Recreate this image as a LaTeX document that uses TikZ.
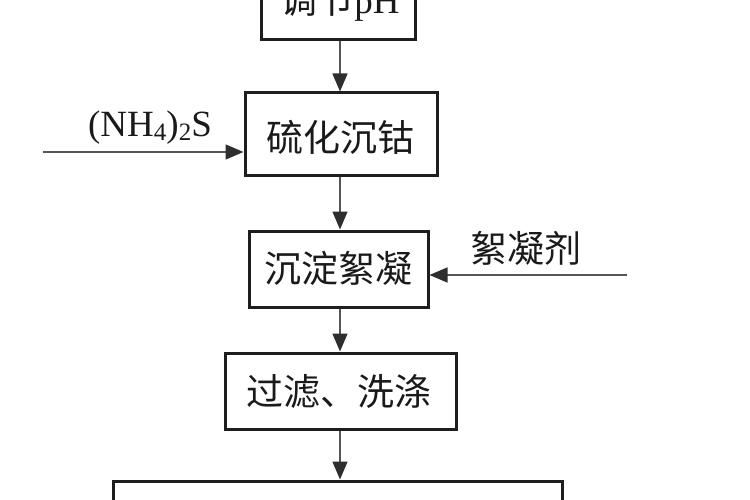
\documentclass[tikz,border=0pt]{standalone}
\usepackage{fontspec}
\setmainfont{Liberation Serif}
\newfontfamily\cjk{Noto Sans CJK SC}
\usetikzlibrary{arrows.meta}
\definecolor{boxline}{HTML}{1E1E1E}
\definecolor{arrline}{HTML}{555555}
\definecolor{tipcol}{HTML}{2E2E2E}
\definecolor{txt}{HTML}{1A1A1A}
\tikzset{
  procbox/.style={draw=boxline, line width=3pt, inner sep=0pt},
  flow/.style={draw=arrline, line width=1.5pt, -{Triangle[length=18pt,width=15pt,color=tipcol]}},
  lbl/.style={text=txt, inner sep=0pt, font=\cjk\fontsize{37}{42}\selectfont},
}
\begin{document}
\begin{tikzpicture}[x=1pt,y=-1pt]
\useasboundingbox (0,0) rectangle (750,500);
\clip (0,0) rectangle (750,500);
% boxes
\node[procbox, minimum width=154pt, minimum height=80pt] (b1) at (338,0) {};
\node[lbl, anchor=base] (t1) at (340,14) {调节\fontspec{Liberation Serif}pH};
\node[procbox, minimum width=192pt, minimum height=83pt] (b2) at (341,134.5) {};
\node[lbl] (t2) at (340,137) {硫化沉钴};
\node[procbox, minimum width=179pt, minimum height=76pt] (b3) at (338.5,269) {};
\node[lbl] (t3) at (338,268) {沉淀絮凝};
\node[procbox, minimum width=231pt, minimum height=76pt] (b4) at (340.5,391) {};
\node[lbl] (t4) at (339,392) {过滤、洗涤};
\node[procbox, minimum width=449pt, minimum height=80pt] (b5) at (337.5,521) {};
% inputs
\coordinate (s1) at (43,152);
\coordinate (s2) at (627,275);
\node[text=txt, inner sep=0pt, font=\fontsize{37}{40}\selectfont] (l1) at (150,128) {(NH\raisebox{-0.2ex}{\fontsize{25}{26}\selectfont 4})\raisebox{-0.2ex}{\fontsize{25}{26}\selectfont 2}S};
\node[lbl] (l2) at (526,248) {絮凝剂};
% connectors
\draw[flow] (b1.south -| 340,0) -- (b2.north -| 340,0);
\draw[flow] (b2.south -| 340,0) -- (b3.north -| 340,0);
\draw[flow] (b3.south -| 340,0) -- (b4.north -| 340,0);
\draw[flow] (b4.south -| 340,0) -- (b5.north -| 340,0);
\draw[flow] (s1) -- (s1 -| b2.west);
\draw[flow] (s2) -- (s2 -| b3.east);
\end{tikzpicture}
\end{document}
